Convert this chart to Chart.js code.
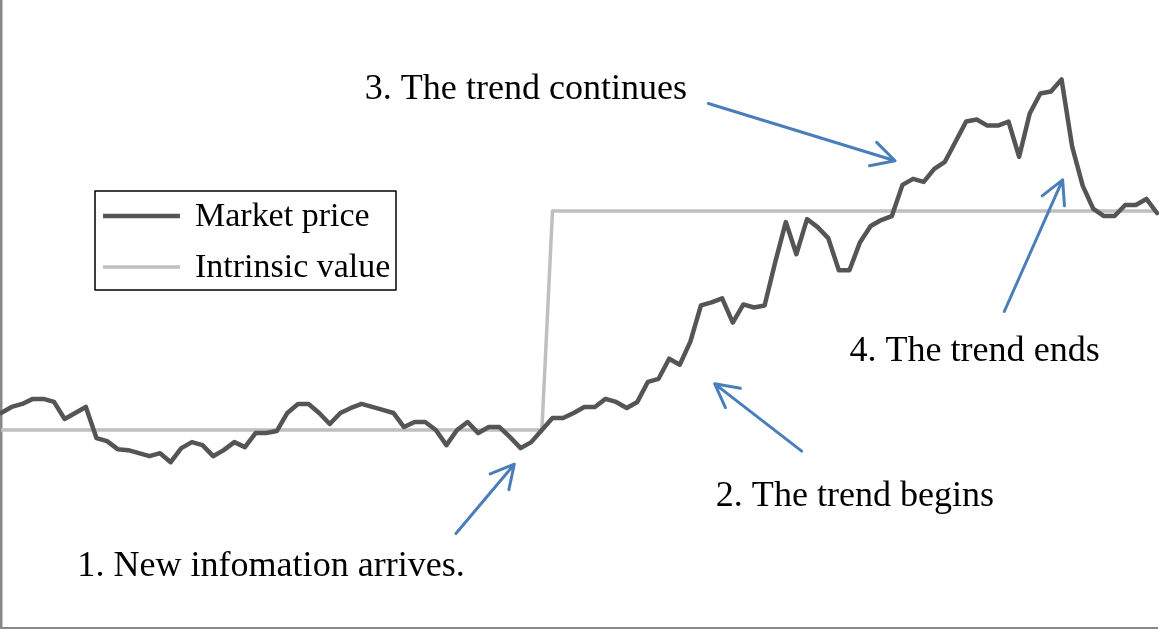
<!DOCTYPE html>
<html>
<head>
<meta charset="utf-8">
<script src="https://cdn.jsdelivr.net/npm/chart.js@4.4.0/dist/chart.umd.min.js"></script>
<style>
  body { margin: 0; background: #fff; }
  #wrap { width: 1159px; height: 629px; position: relative; }
</style>
</head>
<body>
<div id="wrap"><canvas id="trend-chart"></canvas></div>
<script>
// periods (one point per period)
const periods = [];
for (let i = 1; i <= 110; i++) periods.push(i);

// market price
const marketPrice = [
  42.8, 44.0, 44.6, 45.6, 45.6, 45.0, 41.6, 42.8, 44.0, 37.8,
  37.2, 35.6, 35.4, 34.8, 34.2, 34.8, 33.0, 35.8, 37.0, 36.4,
  34.2, 35.4, 37.0, 36.0, 38.8, 38.8, 39.2, 42.8, 44.6, 44.6,
  42.8, 40.6, 42.8, 43.8, 44.6, 44.0, 43.4, 42.8, 40.0, 41.0,
  41.0, 39.4, 36.4, 39.4, 41.0, 38.8, 40.0, 40.0, 38.0, 35.8,
  37.0, 39.4, 41.8, 41.8, 42.8, 44.0, 44.0, 45.6, 45.0, 43.8,
  45.0, 49.0, 49.6, 53.6, 52.4, 57.0, 64.2, 64.8, 65.6, 60.8,
  64.4, 63.8, 64.2, 72.8, 80.8, 74.4, 81.4, 79.8, 77.6, 71.2,
  71.2, 76.8, 80.0, 81.2, 82.0, 88.2, 89.4, 88.8, 91.4, 92.8,
  96.8, 100.8, 101.2, 100.0, 100.0, 100.8, 93.8, 102.4, 106.4, 106.8,
  109.2, 95.8, 88.0, 83.4, 82.0, 82.0, 84.2, 84.2, 85.4, 82.6
];

// intrinsic value: jumps when the new information arrives
const intrinsicValue = [
  39.4, 39.4, 39.4, 39.4, 39.4, 39.4, 39.4, 39.4, 39.4, 39.4,
  39.4, 39.4, 39.4, 39.4, 39.4, 39.4, 39.4, 39.4, 39.4, 39.4,
  39.4, 39.4, 39.4, 39.4, 39.4, 39.4, 39.4, 39.4, 39.4, 39.4,
  39.4, 39.4, 39.4, 39.4, 39.4, 39.4, 39.4, 39.4, 39.4, 39.4,
  39.4, 39.4, 39.4, 39.4, 39.4, 39.4, 39.4, 39.4, 39.4, 39.4,
  39.4, 39.4, 83.0, 83.0, 83.0, 83.0, 83.0, 83.0, 83.0, 83.0,
  83.0, 83.0, 83.0, 83.0, 83.0, 83.0, 83.0, 83.0, 83.0, 83.0,
  83.0, 83.0, 83.0, 83.0, 83.0, 83.0, 83.0, 83.0, 83.0, 83.0,
  83.0, 83.0, 83.0, 83.0, 83.0, 83.0, 83.0, 83.0, 83.0, 83.0,
  83.0, 83.0, 83.0, 83.0, 83.0, 83.0, 83.0, 83.0, 83.0, 83.0,
  83.0, 83.0, 83.0, 83.0, 83.0, 83.0, 83.0, 83.0, 83.0, 83.0
];

// notes: text anchor and arrow (from -> to), in period index / price units
const noteTexts = ['3. The trend continues', '4. The trend ends', '2. The trend begins', '1. New infomation arrives.'];
const noteAt = [[34.3, 105.2], [80.0, 53.2], [67.4, 24.2], [7.2, 10.4]];
const arrowFrom = [[66.7, 104.4], [94.6, 63.0], [75.5, 35.2], [42.9, 18.8]];
const arrowTo = [[84.3, 93.0], [100.1, 89.2], [67.3, 48.6], [48.4, 32.6]];

const SERIF = '"Liberation Serif", "DejaVu Serif", serif';
const ARROW_BLUE = '#4a7ebb';

function drawArrow(ctx, x1, y1, x2, y2) {
  const ang = Math.atan2(y1 - y2, x1 - x2);
  const len = 26, spread = 28 * Math.PI / 180;
  ctx.beginPath();
  ctx.moveTo(x1, y1);
  ctx.lineTo(x2, y2);
  ctx.moveTo(x2 + len * Math.cos(ang + spread), y2 + len * Math.sin(ang + spread));
  ctx.lineTo(x2, y2);
  ctx.lineTo(x2 + len * Math.cos(ang - spread), y2 + len * Math.sin(ang - spread));
  ctx.stroke();
}

// text a little wider than the font gives, like the original
function wideText(ctx, txt, x, y, sx) {
  ctx.save();
  ctx.translate(x, y);
  ctx.scale(sx, 1);
  ctx.fillText(txt, 0, 0);
  ctx.restore();
}

const notesPlugin = {
  id: 'notes',
  afterDatasetsDraw(chart) {
    const ctx = chart.ctx;
    const xs = chart.scales.x, ys = chart.scales.y;
    const px = v => xs.getPixelForValue(v);
    const py = v => ys.getPixelForValue(v);
    ctx.save();
    ctx.strokeStyle = ARROW_BLUE;
    ctx.lineWidth = 3;
    ctx.lineCap = 'round';
    ctx.lineJoin = 'round';
    for (let i = 0; i < arrowFrom.length; i++) {
      drawArrow(ctx, px(arrowFrom[i][0]), py(arrowFrom[i][1]), px(arrowTo[i][0]), py(arrowTo[i][1]));
    }
    ctx.fillStyle = '#000';
    ctx.font = '35px ' + SERIF;
    ctx.textBaseline = 'alphabetic';
    for (let i = 0; i < noteTexts.length; i++) {
      wideText(ctx, noteTexts[i], px(noteAt[i][0]), py(noteAt[i][1]), 1.03);
    }

    // legend box
    const bx = 95, by = 191, bw = 301, bh = 99;
    ctx.fillStyle = '#fff';
    ctx.fillRect(bx, by, bw, bh);
    ctx.strokeStyle = '#000';
    ctx.lineWidth = 1.5;
    ctx.strokeRect(bx, by, bw, bh);
    chart.data.datasets.forEach((ds, i) => {
      const ly = by + 25 + i * 51;
      ctx.strokeStyle = ds.borderColor;
      ctx.lineWidth = ds.borderWidth;
      ctx.lineCap = 'butt';
      ctx.beginPath();
      ctx.moveTo(bx + 8, ly);
      ctx.lineTo(bx + 85, ly);
      ctx.stroke();
      ctx.fillStyle = '#000';
      ctx.font = '33px ' + SERIF;
      wideText(ctx, ds.label, bx + 100, ly + 10, 1.03);
    });
    ctx.restore();
  }
};

const ctx = document.getElementById('trend-chart').getContext('2d');
const chart = new Chart(ctx, {
  type: 'line',
  data: {
    labels: periods,
    datasets: [{
      label: 'Market price',
      data: marketPrice,
      borderColor: '#555555',
      borderWidth: 4.5,
      pointRadius: 0,
      tension: 0,
      borderJoinStyle: 'round',
      borderCapStyle: 'round'
    }, {
      label: 'Intrinsic value',
      data: intrinsicValue,
      borderColor: '#bfbfbf',
      borderWidth: 3.5,
      pointRadius: 0,
      tension: 0,
      borderJoinStyle: 'round'
    }]
  },
  options: {
    responsive: true,
    maintainAspectRatio: false,
    animation: false,
    layout: { padding: { left: 1, right: 2, top: 0, bottom: 1 } },
    scales: {
      x: {
        grid: { display: false, drawTicks: false },
        ticks: { display: false },
        border: { display: true, color: '#888888', width: 2.5 }
      },
      y: {
        min: 0,
        max: 125,
        grid: { display: false, drawTicks: false },
        ticks: { display: false },
        border: { display: true, color: '#888888', width: 2.5 }
      }
    },
    plugins: {
      legend: { display: false },
      tooltip: { enabled: false }
    }
  },
  plugins: [notesPlugin]
});
</script>
</body>
</html>
